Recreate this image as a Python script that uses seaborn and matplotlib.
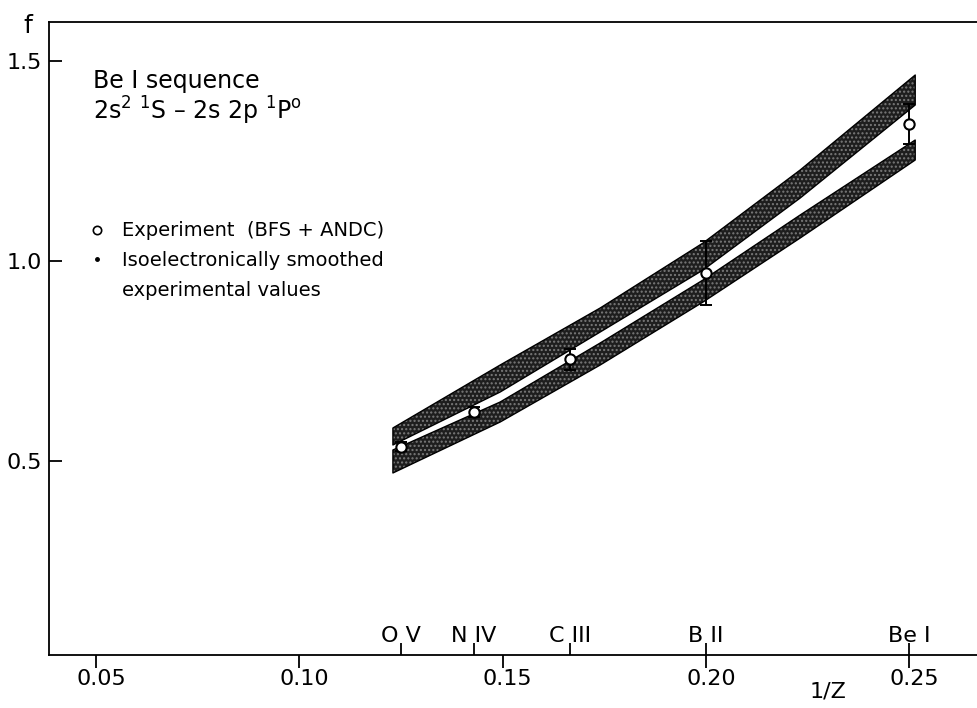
import matplotlib
matplotlib.use('Agg')
import matplotlib.pyplot as plt
import matplotlib.transforms as mtransforms
from matplotlib.lines import Line2D
import seaborn as sns

# shaded bands (edges): 1/Z and f
band_x = [0.1230, 0.1494, 0.1740, 0.1993, 0.2232, 0.2515]
upper_top = [0.5825, 0.740, 0.8825, 1.045, 1.2275, 1.465]
upper_bot = [0.540, 0.6725, 0.8225, 0.9775, 1.1575, 1.390]
lower_top = [0.5275, 0.6475, 0.795, 0.9525, 1.115, 1.3025]
lower_bot = [0.470, 0.5975, 0.740, 0.8975, 1.0575, 1.2525]

# experimental points
ions = ['O V', 'N IV', 'C III', 'B II', 'Be I']
inv_z = [1 / 8, 1 / 7, 1 / 6, 1 / 5, 1 / 4]
f_exp = [0.536, 0.623, 0.754, 0.970, 1.342]
f_err = [0.012, 0.012, 0.027, 0.080, 0.050]

x_ticks = [0.05, 0.10, 0.15, 0.20, 0.25]
x_labels = ['0.05', '0.10', '0.15', '0.20', '0.25']
y_ticks = [0.5, 1.0, 1.5]
y_labels = ['0.5', '1.0', '1.5']

sns.set_style('ticks')
plt.rcParams['font.family'] = ['DejaVu Sans']
plt.rcParams['mathtext.default'] = 'regular'
plt.rcParams['hatch.linewidth'] = 1.0
for key in ['text.color', 'axes.labelcolor', 'xtick.color', 'ytick.color',
            'axes.edgecolor']:
    plt.rcParams[key] = 'black'

fig = plt.figure(figsize=(9.77, 7.08), dpi=100)
ax = fig.add_axes([0.0502, 0.0749, 0.9498, 0.894])

# bands
for top, bot in [(upper_top, upper_bot), (lower_top, lower_bot)]:
    ax.fill_between(band_x, bot, top, facecolor='#1e1e1e', edgecolor='#7a7a7a',
                    hatch='....', linewidth=0, zorder=2)
    ax.fill_between(band_x, bot, top, facecolor='none', edgecolor='black',
                    linewidth=1.0, zorder=3)

# error bars + open circles
ax.errorbar(inv_z, f_exp, yerr=f_err, fmt='none', ecolor='black',
            elinewidth=1.4, capsize=4, capthick=1.4, zorder=4)
sns.scatterplot(x=inv_z, y=f_exp, marker='o', s=55, facecolor='white',
                edgecolor='black', linewidth=1.5, zorder=5, ax=ax, legend=False)

ax.set_xlim(0.0384, 0.2667)
ax.set_ylim(0.015, 1.5975)

# axes styling
ax.spines['right'].set_visible(False)
for s in ['left', 'top', 'bottom']:
    ax.spines[s].set_linewidth(1.3)
    ax.spines[s].set_color('black')

ax.set_xticks(x_ticks, labels=x_labels)
ax.set_xticks(inv_z, minor=True)
ax.xaxis.remove_overlapping_locs = False
ax.tick_params(axis='x', which='major', direction='out', length=9, width=1.3,
               labelsize=16, pad=1, top=False, colors='black')
ax.tick_params(axis='x', which='minor', direction='in', length=9, width=1.3,
               top=False, colors='black')
shift = mtransforms.ScaledTranslation(0.05, 0, fig.dpi_scale_trans)
for lab in ax.get_xticklabels():
    lab.set_transform(lab.get_transform() + shift)

ax.set_yticks(y_ticks, labels=y_labels)
ax.tick_params(axis='y', direction='in', length=9, width=1.3, labelsize=16,
               pad=5, right=False, colors='black')

# ion names above the axis
trans = mtransforms.blended_transform_factory(ax.transData, ax.transAxes)
for xi, name in zip(inv_z, ions):
    ax.text(xi, 0.02, name, transform=trans, ha='center', va='baseline',
            fontsize=16)

# axis labels
ax.text(-0.0226, 0.993, 'f', transform=ax.transAxes, ha='center',
        va='center', fontsize=18)
ax.text(0.2301, -0.058, '1/Z', transform=trans, ha='center', va='center',
        fontsize=16)

# title text
ax.text(0.0474, 0.896, 'Be I sequence', transform=ax.transAxes,
        ha='left', va='baseline', fontsize=17)
ax.text(0.0474, 0.846, r'2s$^{2}$ $^{1}$S – 2s 2p $^{1}$P$^{o}$',
        transform=ax.transAxes, ha='left', va='baseline', fontsize=17)

# legend
handles = [
    Line2D([], [], marker='o', ls='none', mfc='white', mec='black', ms=6, mew=1.2),
    Line2D([], [], marker='.', ls='none', color='black', ms=5),
    Line2D([], [], ls='none'),
]
labels = ['Experiment  (BFS + ANDC)', 'Isoelectronically smoothed',
          'experimental values']
ax.legend(handles, labels, loc='upper left', bbox_to_anchor=(0.041, 0.685),
          frameon=False, fontsize=14, handlelength=1.0, handletextpad=0.8,
          labelspacing=0.55, borderaxespad=0, borderpad=0)

fig.savefig('out.png', dpi=100)
